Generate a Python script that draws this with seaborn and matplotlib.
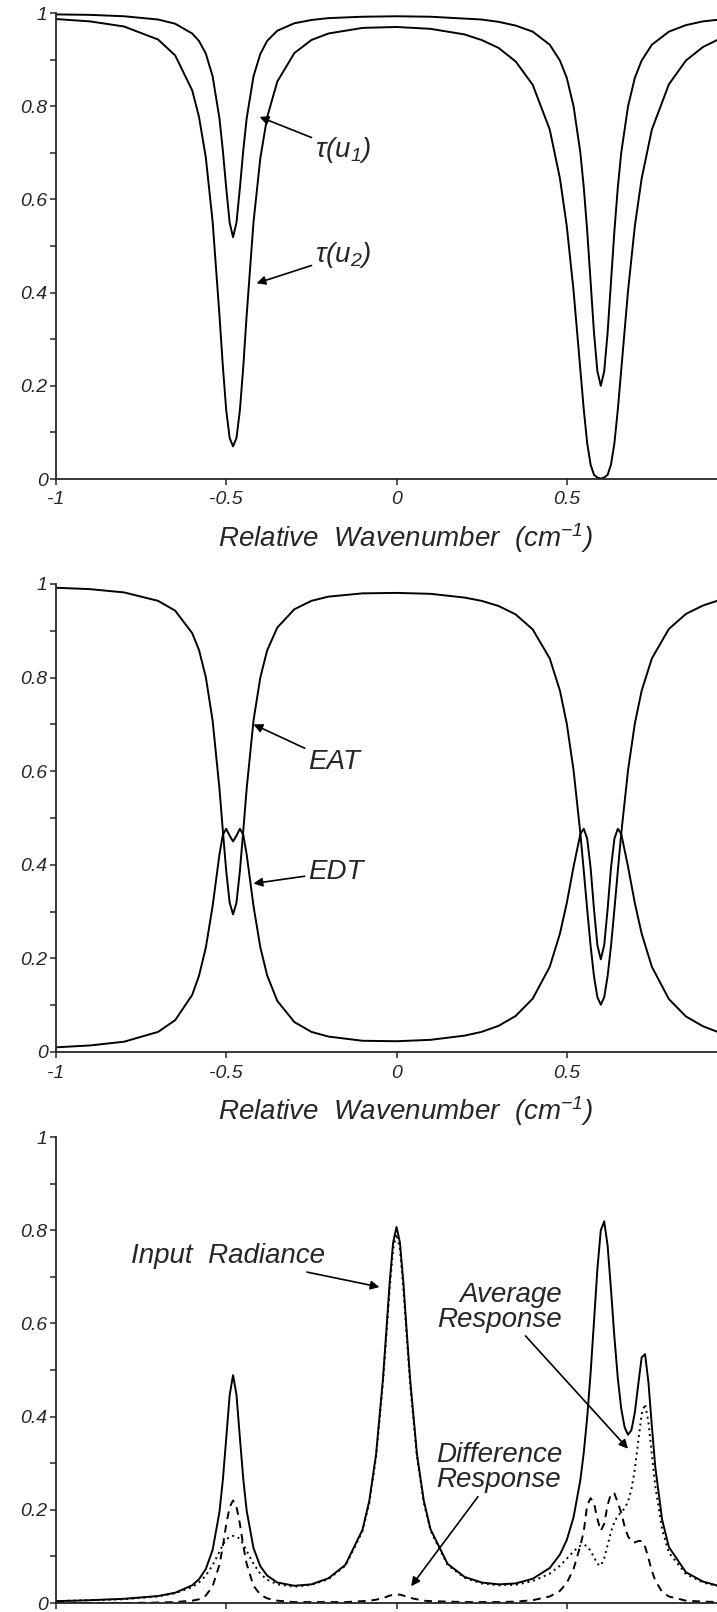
import pandas as pd
import seaborn as sns
import matplotlib
matplotlib.use("Agg")
import matplotlib.pyplot as plt
from matplotlib.ticker import MultipleLocator, FixedLocator, FuncFormatter, NullFormatter

# wavenumber grid for the transmission panels
x12 = [-1.0, -0.9, -0.8, -0.7, -0.65, -0.6, -0.58, -0.56, -0.54, -0.52, -0.51, -0.5, -0.49, -0.48,
       -0.47, -0.46, -0.45, -0.44, -0.42, -0.4, -0.38, -0.35, -0.3, -0.25, -0.2, -0.1, 0.0, 0.1,
       0.2, 0.25, 0.3, 0.35, 0.4, 0.45, 0.48, 0.5, 0.52, 0.54, 0.55, 0.56, 0.57, 0.58, 0.59, 0.6,
       0.61, 0.62, 0.63, 0.64, 0.65, 0.66, 0.68, 0.7, 0.72, 0.75, 0.8, 0.85, 0.9, 0.95, 1.0]
tau_1 = [0.997, 0.996, 0.993, 0.986, 0.977, 0.956, 0.940, 0.913, 0.864, 0.774, 0.705, 0.624, 0.550, 0.519,
         0.550, 0.624, 0.705, 0.774, 0.864, 0.912, 0.940, 0.962, 0.978, 0.985, 0.989, 0.992, 0.993, 0.992,
         0.988, 0.986, 0.981, 0.973, 0.960, 0.932, 0.898, 0.861, 0.800, 0.700, 0.626, 0.533, 0.424, 0.314,
         0.231, 0.200, 0.231, 0.314, 0.424, 0.533, 0.626, 0.700, 0.800, 0.861, 0.898, 0.932, 0.960, 0.974,
         0.982, 0.986, 0.989]
tau_2 = [0.987, 0.982, 0.971, 0.943, 0.909, 0.834, 0.777, 0.690, 0.552, 0.352, 0.242, 0.147, 0.088, 0.070,
         0.088, 0.147, 0.241, 0.352, 0.551, 0.688, 0.776, 0.853, 0.914, 0.942, 0.956, 0.968, 0.970, 0.966,
         0.954, 0.942, 0.925, 0.896, 0.846, 0.750, 0.645, 0.543, 0.404, 0.234, 0.149, 0.077, 0.031, 0.009,
         0.003, 0.001, 0.003, 0.009, 0.031, 0.077, 0.149, 0.234, 0.404, 0.543, 0.645, 0.750, 0.847, 0.898,
         0.927, 0.945, 0.957]
eat = [0.992, 0.989, 0.982, 0.964, 0.943, 0.895, 0.859, 0.801, 0.708, 0.563, 0.473, 0.386, 0.319, 0.294,
       0.319, 0.386, 0.473, 0.563, 0.708, 0.800, 0.858, 0.907, 0.946, 0.964, 0.973, 0.980, 0.981, 0.979,
       0.971, 0.964, 0.953, 0.935, 0.903, 0.841, 0.772, 0.702, 0.602, 0.467, 0.387, 0.305, 0.227, 0.162,
       0.117, 0.101, 0.117, 0.162, 0.227, 0.305, 0.387, 0.467, 0.602, 0.702, 0.772, 0.841, 0.904, 0.936,
       0.954, 0.966, 0.973]
edt = [0.010, 0.014, 0.022, 0.043, 0.068, 0.122, 0.163, 0.223, 0.312, 0.422, 0.464, 0.477, 0.462, 0.450,
       0.462, 0.477, 0.464, 0.422, 0.312, 0.224, 0.164, 0.109, 0.064, 0.043, 0.033, 0.024, 0.023, 0.026,
       0.035, 0.043, 0.056, 0.077, 0.114, 0.182, 0.253, 0.318, 0.396, 0.466, 0.477, 0.456, 0.394, 0.305,
       0.228, 0.198, 0.228, 0.305, 0.394, 0.456, 0.477, 0.466, 0.396, 0.318, 0.253, 0.182, 0.113, 0.076,
       0.055, 0.041, 0.032]

# wavenumber grid for the radiance panel
x3 = [-1.0, -0.9, -0.8, -0.7, -0.65, -0.6, -0.58, -0.56, -0.54, -0.52, -0.51, -0.5, -0.49, -0.48,
      -0.47, -0.46, -0.45, -0.44, -0.42, -0.4, -0.38, -0.35, -0.3, -0.25, -0.2, -0.15, -0.1, -0.08,
      -0.06, -0.04, -0.03, -0.02, -0.01, 0.0, 0.01, 0.02, 0.03, 0.04, 0.06, 0.08, 0.1, 0.15, 0.2,
      0.25, 0.3, 0.35, 0.4, 0.45, 0.48, 0.5, 0.52, 0.54, 0.55, 0.56, 0.57, 0.58, 0.59, 0.6, 0.61,
      0.62, 0.63, 0.64, 0.65, 0.66, 0.67, 0.68, 0.69, 0.7, 0.71, 0.72, 0.73, 0.74, 0.75, 0.76, 0.78,
      0.8, 0.85, 0.9, 0.95, 1.0]
radiance = [0.004, 0.006, 0.009, 0.015, 0.022, 0.038, 0.051, 0.073, 0.114, 0.195, 0.264, 0.354, 0.446, 0.489,
            0.447, 0.355, 0.266, 0.198, 0.118, 0.079, 0.059, 0.044, 0.037, 0.040, 0.053, 0.082, 0.157, 0.219,
            0.319, 0.479, 0.582, 0.688, 0.773, 0.807, 0.774, 0.689, 0.583, 0.480, 0.320, 0.220, 0.158, 0.084,
            0.056, 0.044, 0.040, 0.042, 0.052, 0.075, 0.104, 0.135, 0.184, 0.264, 0.323, 0.398, 0.493, 0.604,
            0.717, 0.800, 0.819, 0.767, 0.672, 0.570, 0.482, 0.417, 0.377, 0.361, 0.371, 0.409, 0.469, 0.527,
            0.534, 0.473, 0.379, 0.292, 0.179, 0.120, 0.066, 0.046, 0.036, 0.030]
avg_resp = [0.004, 0.006, 0.008, 0.014, 0.021, 0.034, 0.044, 0.059, 0.081, 0.110, 0.125, 0.136, 0.142, 0.144,
            0.143, 0.137, 0.126, 0.112, 0.084, 0.063, 0.050, 0.040, 0.035, 0.039, 0.051, 0.080, 0.154, 0.214,
            0.313, 0.470, 0.571, 0.675, 0.759, 0.792, 0.760, 0.676, 0.572, 0.470, 0.314, 0.216, 0.155, 0.082,
            0.054, 0.042, 0.038, 0.039, 0.047, 0.063, 0.080, 0.095, 0.111, 0.123, 0.125, 0.122, 0.112, 0.098,
            0.084, 0.080, 0.096, 0.124, 0.153, 0.174, 0.187, 0.195, 0.203, 0.218, 0.244, 0.287, 0.347, 0.406,
            0.427, 0.388, 0.318, 0.251, 0.158, 0.108, 0.062, 0.044, 0.035, 0.029]
diff_resp = [0.000, 0.000, 0.000, 0.001, 0.002, 0.005, 0.008, 0.016, 0.036, 0.082, 0.122, 0.169, 0.206, 0.220,
             0.207, 0.170, 0.123, 0.084, 0.037, 0.018, 0.010, 0.005, 0.002, 0.002, 0.002, 0.002, 0.004, 0.005,
             0.007, 0.011, 0.013, 0.016, 0.017, 0.018, 0.018, 0.016, 0.013, 0.011, 0.008, 0.005, 0.004, 0.003,
             0.002, 0.002, 0.002, 0.003, 0.006, 0.014, 0.026, 0.043, 0.073, 0.123, 0.154, 0.210, 0.225, 0.215,
             0.180, 0.155, 0.170, 0.210, 0.235, 0.235, 0.215, 0.194, 0.164, 0.143, 0.132, 0.130, 0.133, 0.133,
             0.121, 0.096, 0.069, 0.048, 0.024, 0.014, 0.005, 0.003, 0.002, 0.001]

x_ticks = [-1, -0.5, 0, 0.5]
xlabel_text = r"Relative  Wavenumber  (cm$^{-1}$)"

sns.set_style("ticks")
plt.rcParams['font.family'] = ['Liberation Sans', 'DejaVu Sans']
plt.rcParams['font.style'] = 'italic'
plt.rcParams['mathtext.fontset'] = 'custom'
plt.rcParams['mathtext.it'] = 'Liberation Sans:italic'
plt.rcParams['mathtext.rm'] = 'Liberation Sans:italic'

W, H = 717, 1612
fig = plt.figure(figsize=(W / 100, H / 100), dpi=100)


def make_axes(top, bottom):
    # axes spans x = -1..1, right part is cut off by the figure edge
    ax = fig.add_axes([56 / W, 1 - bottom / H, 681 / W, (bottom - top) / H])
    ax.set_xlim(-1, 1)
    ax.set_ylim(0, 1)
    ax.xaxis.set_major_locator(FixedLocator(x_ticks))
    ax.yaxis.set_major_locator(MultipleLocator(0.2))
    ax.yaxis.set_minor_locator(MultipleLocator(0.1))
    fmt = FuncFormatter(lambda v, p: f"{v:g}")
    ax.xaxis.set_major_formatter(fmt)
    ax.yaxis.set_major_formatter(fmt)
    ax.tick_params(axis='both', which='both', direction='out', length=4, width=1.1, labelsize=14)
    ax.tick_params(axis='x', pad=5)
    ax.tick_params(axis='y', pad=2)
    sns.despine(ax=ax)
    for s in ['left', 'bottom']:
        ax.spines[s].set_linewidth(1.3)
    return ax


def add_xlabel(ax):
    ax.set_xlabel(xlabel_text, fontsize=20)
    ax.xaxis.set_label_coords(0.238, -0.146)
    ax.xaxis.label.set_horizontalalignment('left')
    ax.xaxis.label.set_verticalalignment('baseline')


arrow = dict(arrowstyle='-|>', color='black', lw=1.2, mutation_scale=13, shrinkA=0, shrinkB=0)
lw = 1.4

# Panel 1: transmissions
ax1 = make_axes(13, 479)
df1 = pd.DataFrame({'x': x12, 'tau_1': tau_1, 'tau_2': tau_2})
sns.lineplot(data=df1, x='x', y='tau_1', ax=ax1, color='black', lw=lw, estimator=None, sort=False)
sns.lineplot(data=df1, x='x', y='tau_2', ax=ax1, color='black', lw=lw, estimator=None, sort=False)
ax1.set_ylabel("")
add_xlabel(ax1)
ax1.annotate(r"$\tau(u_1)$", xy=(-0.402, 0.777), xytext=(-0.24, 0.706), fontsize=20,
             va='center', ha='left', arrowprops=arrow)
ax1.annotate(r"$\tau(u_2)$", xy=(-0.411, 0.42), xytext=(-0.24, 0.48), fontsize=20,
             va='center', ha='left', arrowprops=arrow)

# Panel 2: EAT / EDT
ax2 = make_axes(584, 1052)
df2 = pd.DataFrame({'x': x12, 'EAT': eat, 'EDT': edt})
sns.lineplot(data=df2, x='x', y='EAT', ax=ax2, color='black', lw=lw, estimator=None, sort=False)
sns.lineplot(data=df2, x='x', y='EDT', ax=ax2, color='black', lw=lw, estimator=None, sort=False)
ax2.set_ylabel("")
add_xlabel(ax2)
ax2.annotate("EAT", xy=(-0.42, 0.70), xytext=(-0.26, 0.62), fontsize=20,
             va='center', ha='left', arrowprops=arrow)
ax2.annotate("EDT", xy=(-0.42, 0.36), xytext=(-0.26, 0.385), fontsize=20,
             va='center', ha='left', arrowprops=arrow)

# Panel 3: radiance and responses (x tick labels fall below the figure edge)
ax3 = make_axes(1137, 1603)
ax3.xaxis.set_major_formatter(NullFormatter())
df3 = pd.DataFrame({'x': x3, 'Input Radiance': radiance, 'Average Response': avg_resp,
                    'Difference Response': diff_resp})
sns.lineplot(data=df3, x='x', y='Input Radiance', ax=ax3, color='black', lw=lw, estimator=None, sort=False)
sns.lineplot(data=df3, x='x', y='Average Response', ax=ax3, color='black', lw=lw,
             linestyle=(0, (1, 2)), estimator=None, sort=False)
sns.lineplot(data=df3, x='x', y='Difference Response', ax=ax3, color='black', lw=lw,
             linestyle=(0, (4, 3)), estimator=None, sort=False)
ax3.set_ylabel("")
ax3.set_xlabel("")
ax3.annotate("Input  Radiance", xy=(-0.05, 0.678), xytext=(-0.21, 0.745), fontsize=20,
             va='center', ha='right', arrowprops=arrow)
ax3.annotate("Average\nResponse", xy=(0.68, 0.331), xytext=(0.485, 0.635), fontsize=20,
             va='center', ha='right', multialignment='right', linespacing=0.95, arrowprops=arrow)
ax3.annotate("Difference\nResponse", xy=(0.043, 0.036), xytext=(0.117, 0.29), fontsize=20,
             va='center', ha='left', multialignment='left', linespacing=0.95, arrowprops=arrow)

fig.savefig("out.png", dpi=100)
